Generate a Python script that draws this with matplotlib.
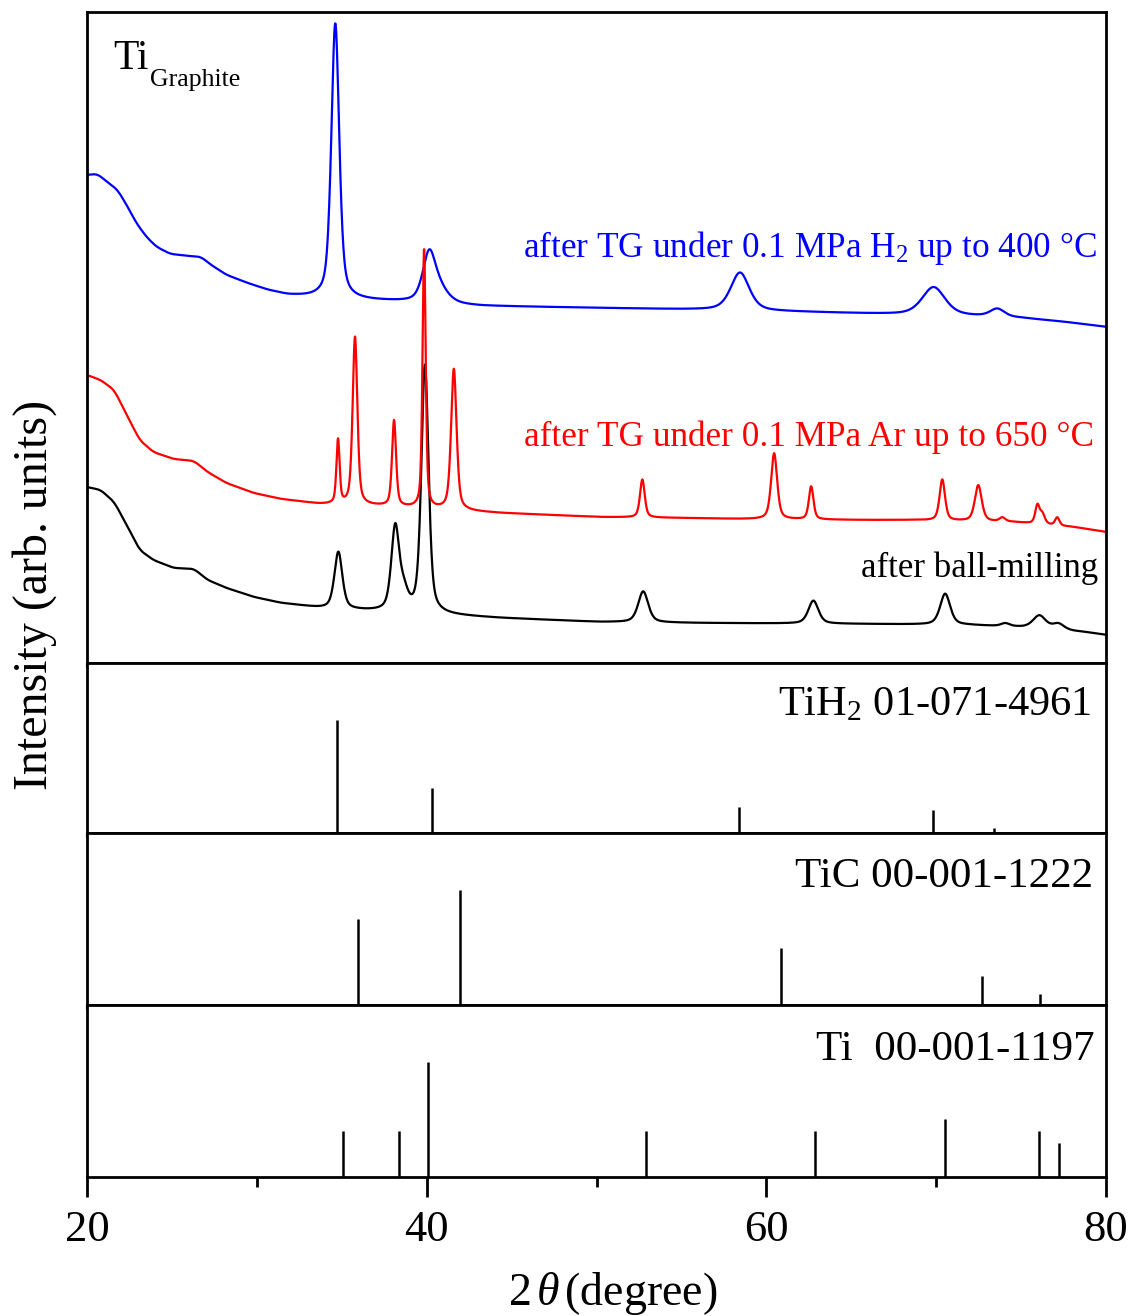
import numpy as np
import matplotlib
matplotlib.use("Agg")
import matplotlib.pyplot as plt
from matplotlib.ticker import MultipleLocator

plt.rcParams["font.family"] = ["Liberation Serif", "DejaVu Serif"]
plt.rcParams["mathtext.fontset"] = "custom"
plt.rcParams["mathtext.rm"] = "Liberation Serif"
plt.rcParams["mathtext.it"] = "Liberation Serif:italic"

# ---------------- measured patterns (2theta in degree, intensity in a.u.) ----------------
# after TG under H2: background points and Bragg peaks (centre, height, FWHM)
h2_bg_x = [20.0, 20.6, 21.2, 21.8, 22.4, 22.9, 23.5, 24.1, 24.9, 25.9, 26.7, 27.3, 28.2,
           29.4, 30.6, 31.8, 33.0, 34.0, 36.0, 38.9, 43.2, 50.3, 56.9, 62.2, 66.9, 72.0,
           75.0, 77.6, 80.0]
h2_bg_y = [488, 489, 481, 473, 456, 440, 426, 416, 409, 407, 406, 398, 388,
           380, 373, 368, 366, 365, 363, 361, 357, 355, 353, 351, 349, 347,
           345, 341, 336]
h2_pk_pos = [34.62, 40.15, 40.80, 58.45, 69.85, 73.60]
h2_pk_hgt = [275, 48, 12, 38, 28, 8]
h2_pk_fwhm = [0.55, 0.90, 1.20, 1.30, 1.60, 1.00]

# after TG under Ar
ar_bg_x = [20.0, 20.8, 21.6, 22.4, 23.1, 23.9, 25.1, 26.3, 27.1, 28.2, 29.8, 31.4, 33.7,
           37.0, 44.3, 50.2, 55.1, 58.5, 65.9, 68.5, 74.5, 78.1, 80.0]
ar_bg_y = [288, 283, 273, 246, 223, 211, 204, 202, 191, 180, 170, 164, 159,
           157, 150, 146, 145, 144, 143, 143, 141, 136, 131]
ar_pk_pos = [34.78, 35.78, 38.08, 39.85, 41.60, 52.70, 60.46, 62.64, 70.36, 72.48,
             73.90, 75.96, 76.25, 77.13]
ar_pk_hgt = [64, 168, 86, 260, 141, 38, 66, 33, 41, 36, 4, 18, 10, 8]
ar_pk_fwhm = [0.22, 0.33, 0.28, 0.22, 0.38, 0.33, 0.42, 0.32, 0.38, 0.48,
              0.40, 0.30, 0.35, 0.30]

# after ball-milling
bm_bg_x = [20.0, 20.8, 21.6, 22.4, 23.1, 23.9, 25.1, 26.3, 27.1, 28.2, 29.8, 31.4, 33.7,
           36.5, 44.3, 50.2, 56.1, 65.9, 71.8, 74.8, 78.7, 80.0]
bm_bg_y = [176, 173, 161, 136, 113, 103, 95, 94, 83, 75, 66, 60, 55,
           52, 45, 41, 40, 39, 38, 36, 31, 28]
bm_pk_pos = [34.80, 38.15, 38.65, 39.90, 52.75, 62.77, 70.53, 74.07, 76.08, 77.20]
bm_pk_hgt = [57, 83, 18, 248, 31, 23, 31, 3, 13, 6]
bm_pk_fwhm = [0.55, 0.55, 0.60, 0.50, 0.70, 0.70, 0.70, 0.60, 0.90, 0.80]

# ---------------- reference cards (2theta, relative intensity) ----------------
tih2_pos = [34.70, 40.30, 58.40, 69.80, 73.40]
tih2_int = [100, 40, 23, 20, 4]
tic_pos = [35.96, 41.97, 60.87, 72.71, 76.12]
tic_int = [75, 100, 50, 25, 10]
ti_pos = [35.05, 38.35, 40.10, 52.90, 62.85, 70.50, 76.05, 77.25]
ti_int = [40, 40, 100, 40, 40, 51, 40, 30]

x_ticks = [20, 40, 60, 80]


def pattern(tt, bg_x, bg_y, pos, hgt, fwhm, eta=0.5, smooth=25):
    """Smoothed background plus pseudo-Voigt reflections."""
    bg = np.interp(tt, bg_x, bg_y).astype(float)
    k = np.ones(smooth) / smooth
    padded = np.pad(bg, smooth // 2, mode="edge")
    y = np.convolve(padded, k, mode="valid")
    for c, h, w in zip(pos, hgt, fwhm):
        d = (tt - c) / (w / 2.0)
        lor = 1.0 / (1.0 + d ** 2)
        gau = np.exp(-np.log(2.0) * d ** 2)
        y += h * (eta * lor + (1 - eta) * gau)
    return y


tt = np.linspace(20, 80, 3001)
y_h2 = pattern(tt, h2_bg_x, h2_bg_y, h2_pk_pos, h2_pk_hgt, h2_pk_fwhm)
y_ar = pattern(tt, ar_bg_x, ar_bg_y, ar_pk_pos, ar_pk_hgt, ar_pk_fwhm)
y_bm = pattern(tt, bm_bg_x, bm_bg_y, bm_pk_pos, bm_pk_hgt, bm_pk_fwhm)

W, H = 1135, 1316
fig = plt.figure(figsize=(W / 100, H / 100), dpi=100)


def px_axes(top, bottom, left=87, right=1106):
    return fig.add_axes([left / W, 1 - bottom / H, (right - left) / W, (bottom - top) / H])


ax0 = px_axes(12, 663)
ax1 = px_axes(663, 833)
ax2 = px_axes(833, 1005)
ax3 = px_axes(1005, 1177)
axes = [ax0, ax1, ax2, ax3]

for ax in axes:
    ax.set_xlim(20, 80)
    ax.set_yticks([])
    for s in ax.spines.values():
        s.set_linewidth(2.0)
    ax.xaxis.set_major_locator(MultipleLocator(20))
    ax.xaxis.set_minor_locator(MultipleLocator(10))

for ax in axes[:3]:
    ax.tick_params(axis="x", which="both", direction="out", length=3.5, width=1.5,
                   labelbottom=False)

ax3.set_xticks(x_ticks)
ax3.tick_params(axis="x", which="major", direction="out", length=14.5, width=2.0,
                labelsize=32, pad=9)
ax3.tick_params(axis="x", which="minor", direction="out", length=7.5, width=2.0)

# measured patterns
ax0.plot(tt, y_h2, color="#0000ff", lw=1.6)
ax0.plot(tt, y_bm, color="black", lw=1.6)
ax0.plot(tt, y_ar, color="#ff0000", lw=1.6)
ax0.set_ylim(0, 651)

# reference sticks
for ax, pos, inten in [(ax1, tih2_pos, tih2_int), (ax2, tic_pos, tic_int), (ax3, ti_pos, ti_int)]:
    ax.vlines(pos, 0, inten, color="black", lw=1.8)
    ax.set_ylim(0, 150)


def ftext(x, y, s, **kw):
    fig.text(x / W, 1 - y / H, s, **kw)


# sample annotations
ftext(113, 69, "Ti", fontsize=30, ha="left", va="baseline")
ftext(150, 86, "Graphite", fontsize=18.5, ha="left", va="baseline")
ftext(1097, 257, "after TG under 0.1 MPa H$_2$ up to 400 \u00b0C", fontsize=25.4,
      color="#0000ff", ha="right", va="baseline")
ftext(1094, 446, "after TG under 0.1 MPa Ar up to 650 \u00b0C", fontsize=25.4,
      color="#ff0000", ha="right", va="baseline")
ftext(1098, 577, "after ball-milling", fontsize=25, ha="right", va="baseline")

# card labels
ftext(1091, 715, "TiH$_2$ 01-071-4961", fontsize=30.5, ha="right", va="baseline")
ftext(1093, 887, "TiC 00-001-1222", fontsize=31, ha="right", va="baseline")
ftext(1095, 1060, "Ti  00-001-1197", fontsize=31, ha="right", va="baseline")

# axis titles
ftext(35, 595, "Intensity (arb. units)", fontsize=34.5, rotation=90, ha="center", va="center")
ftext(613, 1305, "2$\\,\\mathit{\\theta}\\,$(degree)", fontsize=33, ha="center", va="baseline")

fig.savefig("out.png", dpi=100)
